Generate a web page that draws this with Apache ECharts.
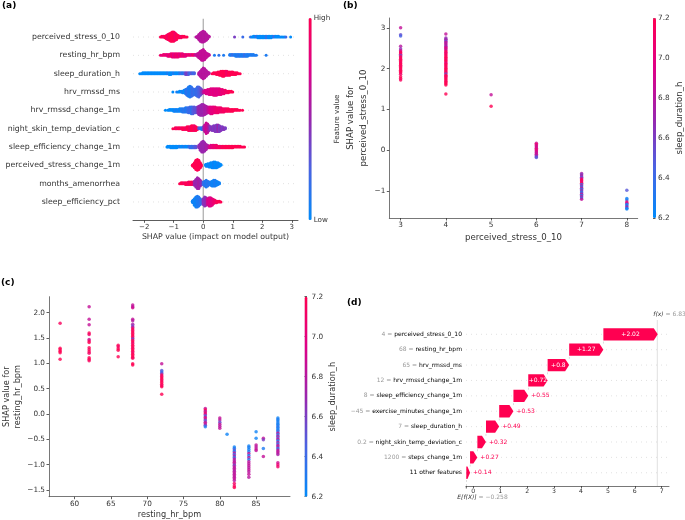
<!DOCTYPE html>
<html><head><meta charset="utf-8">
<script src="https://cdn.jsdelivr.net/npm/echarts@6/dist/echarts.min.js"></script>
<style>html,body{margin:0;padding:0;background:#fff}#main{width:685px;height:520px}</style>
</head><body><div id="main"></div>
<script>
const FONT = 'DejaVu Sans';
const INK = '#333333';
const CMAP = ['#008bfb', '#4963e3', '#9a25ae', '#df0087', '#ff0052'];

// ---------- (a) summary beeswarm: [shap value, number of points, normalised feature value] ----------
const summaryFeatures = ['perceived_stress_0_10', 'resting_hr_bpm', 'sleep_duration_h', 'hrv_rmssd_ms',
  'hrv_rmssd_change_1m', 'night_skin_temp_deviation_c', 'sleep_efficiency_change_1m',
  'perceived_stress_change_1m', 'months_amenorrhea', 'sleep_efficiency_pct'];
const summaryTicks = [-2, -1, 0, 1, 2, 3];

const swarm_perceived_stress_0_10 = [
  [-1.45,1,1],[-1.4,2,1],[-1.35,2,0.9],[-1.3,3,1],[-1.25,5,1],[-1.2,7,0.9],[-1.15,9,1],[-1.1,11,1],[-1.05,12,1],
  [-1.0,12,1],[-0.95,10,0.9],[-0.9,7,1],[-0.85,4,1],[-0.8,3,1],[-0.75,3,0.9],[-0.7,2,1],[-0.65,2,1],[-0.6,1,1],[-0.55,1,1],
  [-0.25,1,0.6],[-0.2,3,0.6],[-0.15,7,0.6],[-0.1,11,0.6],[-0.05,13,0.6],[0,14,0.6],[0.05,12,0.6],[0.1,9,0.6],[0.15,5,0.6],[0.2,2,0.6],
  [1.06,1,0.4],[1.34,1,0.2],[1.6,1,0.2],[1.65,1,0],[1.7,2,0],[1.75,2,0],[1.8,2,0.2],[1.85,3,0],[1.9,3,0],[1.95,3,0],
  [2.0,3,0],[2.05,3,0],[2.1,3,0],[2.15,3,0.2],[2.2,3,0],[2.25,3,0],[2.3,3,0],[2.35,2,0],[2.4,2,0.2],[2.45,2,0],
  [2.5,2,0],[2.55,2,0],[2.6,1,0],[2.65,1,0],[2.7,1,0],[2.75,1,0],[2.8,1,0.2],[2.96,1,0]
];
const swarm_resting_hr_bpm = [
  [-1.45,1,0.9],[-1.4,1,0.75],[-1.35,2,0.9],[-1.3,2,0.8],[-1.25,2,0.9],[-1.2,3,0.75],[-1.15,3,0.9],[-1.1,4,0.8],
  [-1.05,5,0.9],[-1.0,5,0.75],[-0.95,5,0.9],[-0.9,5,0.8],[-0.85,5,0.9],[-0.8,4,0.75],[-0.75,4,0.9],[-0.7,4,0.8],
  [-0.65,3,0.9],[-0.6,3,0.75],[-0.55,2,0.9],[-0.5,2,0.8],[-0.45,2,0.9],[-0.4,2,0.75],[-0.35,2,0.9],[-0.3,2,0.8],
  [-0.25,2,0.65],[-0.2,4,0.65],[-0.15,7,0.65],[-0.1,10,0.65],[-0.05,13,0.65],[0,14,0.65],[0.05,11,0.65],[0.1,7,0.65],[0.15,4,0.65],[0.2,2,0.65],
  [0.38,1,0.1],[0.53,1,0.15],[0.69,1,0.1],[0.9,2,0.1],[0.95,2,0.1],[1.0,2,0.2],[1.05,2,0.1],[1.1,3,0.1],[1.15,3,0.1],
  [1.2,3,0.15],[1.25,3,0.1],[1.3,3,0.1],[1.35,3,0.1],[1.4,3,0.2],[1.45,3,0.1],[1.5,3,0.1],[1.55,2,0.1],[1.6,2,0.1],
  [1.65,2,0.1],[1.7,2,0.1],[1.75,1,0.1],[1.8,1,0.1],[2.13,1,0.1]
];
const swarm_sleep_duration_h = [
  [-2.15,1,0],[-2.1,1,0],[-2.05,2,0],[-2.0,2,0],[-1.95,2,0],[-1.9,2,0],[-1.85,2,0],[-1.8,2,0],[-1.75,2,0],[-1.7,2,0],
  [-1.65,2,0],[-1.6,2,0],[-1.55,2,0],[-1.5,2,0],[-1.45,2,0],[-1.4,2,0],[-1.35,2,0],[-1.3,2,0],[-1.25,2,0],[-1.2,2,0.1],
  [-1.15,3,0],[-1.1,3,0],[-1.05,2,0],[-1.0,2,0.1],[-0.95,2,0],[-0.9,2,0],[-0.85,2,0],[-0.8,2,0.1],[-0.75,2,0.2],[-0.7,2,0.1],
  [-0.65,2,0.2],[-0.6,3,0.35],[-0.55,3,0.4],[-0.5,3,0.3],[-0.45,2,0.2],[-0.4,2,0.3],[-0.35,2,0.2],[-0.3,2,0.25],
  [-0.15,3,0.6],[-0.1,7,0.6],[-0.05,11,0.6],[0,14,0.6],[0.05,12,0.6],[0.1,8,0.6],[0.15,4,0.6],[0.2,2,0.6],
  [0.3,1,1],[0.35,2,1],[0.4,2,1],[0.45,3,1],[0.5,4,1],[0.55,5,1],[0.6,6,1],[0.65,7,1],[0.7,7,1],[0.75,6,1],
  [0.8,6,0.9],[0.85,5,1],[0.9,5,1],[0.95,4,1],[1.0,4,1],[1.05,3,1],[1.1,3,1],[1.15,2,1],[1.2,1,1],[1.25,1,1]
];
const swarm_hrv_rmssd_ms = [
  [-1.03,1,0],[-0.9,1,0.1],[-0.85,1,0],[-0.8,2,0],[-0.75,2,0],[-0.7,3,0.1],[-0.65,4,0],[-0.6,6,0.1],[-0.55,9,0.15],
  [-0.5,12,0.1],[-0.45,14,0.1],[-0.4,12,0.15],[-0.35,9,0.2],[-0.3,7,0.15],[-0.25,9,0.2],[-0.2,12,0.2],[-0.15,13,0.25],
  [-0.1,10,0.3],[-0.05,6,0.4],
  [0,3,0.6],[0.05,4,0.7],[0.1,5,0.75],[0.15,6,0.75],[0.2,7,0.75],[0.25,8,0.8],[0.3,8,0.75],[0.35,9,0.8],[0.4,9,0.75],
  [0.45,9,0.8],[0.5,8,0.75],[0.55,8,0.8],[0.6,7,0.8],[0.65,6,0.85],[0.7,5,0.85],[0.75,4,0.9],[0.8,3,0.9],[0.85,3,0.95],
  [0.9,2,1],[0.95,2,1],[1.0,1,1]
];
const swarm_hrv_rmssd_change_1m = [
  [-1.28,1,0],[-1.2,1,0],[-1.15,2,0],[-1.1,2,0],[-1.05,2,0],[-1.0,3,0],[-0.95,3,0.1],[-0.9,3,0],[-0.85,3,0.1],[-0.8,4,0],
  [-0.75,4,0.1],[-0.7,5,0.1],[-0.65,5,0.15],[-0.6,6,0.1],[-0.55,6,0.15],[-0.5,7,0.2],[-0.45,8,0.2],[-0.4,9,0.15],
  [-0.35,9,0.25],[-0.3,8,0.3],[-0.25,7,0.3],[-0.2,8,0.4],
  [-0.15,11,0.5],[-0.1,13,0.5],[-0.05,14,0.5],[0,14,0.5],[0.05,12,0.55],[0.1,10,0.55],[0.15,8,0.6],
  [0.2,8,0.7],[0.25,9,0.75],[0.3,9,0.8],[0.35,8,0.8],[0.4,8,0.85],[0.45,7,0.85],[0.5,7,0.9],[0.55,6,0.85],[0.6,6,0.9],
  [0.65,5,0.9],[0.7,5,0.95],[0.75,4,0.9],[0.8,4,0.95],[0.85,4,1],[0.9,3,0.95],[0.95,3,1],[1.0,3,1],[1.05,2,1],[1.1,2,1],
  [1.15,2,1],[1.2,1,1],[1.25,1,1],[1.33,1,1]
];
const swarm_night_skin_temp_deviation_c = [
  [-1.03,1,1],[-0.95,2,1],[-0.9,2,0.9],[-0.85,2,1],[-0.8,2,1],[-0.75,2,0.9],[-0.7,3,1],[-0.65,3,1],[-0.6,3,0.9],
  [-0.55,4,1],[-0.5,5,1],[-0.45,5,0.9],[-0.4,6,1],[-0.35,6,1],[-0.3,6,0.9],[-0.25,5,1],[-0.2,3,1],
  [-0.15,2,0.3],[-0.1,2,0.2],[-0.05,3,0.1],[0,4,0.4],[0.05,8,0.6],[0.1,12,0.7],[0.15,10,0.65],[0.2,6,0.5],
  [0.25,4,0.4],[0.3,5,0.45],[0.35,6,0.4],[0.4,7,0.45],[0.45,8,0.4],[0.5,8,0.5],[0.55,7,0.4],[0.6,5,0.45],
  [0.65,4,0.4],[0.7,3,0.45],[0.75,2,0.4]
];
const swarm_sleep_efficiency_change_1m = [
  [-1.23,1,0],[-1.2,2,0],[-1.15,2,0],[-1.1,3,0],[-1.05,3,0],[-1.0,3,0],[-0.95,3,0],[-0.9,3,0],[-0.85,2,0],[-0.8,2,0.1],
  [-0.75,2,0],[-0.7,2,0],[-0.65,2,0.1],[-0.6,2,0],[-0.55,2,0],[-0.5,2,0.1],[-0.45,3,0.2],[-0.4,3,0.15],[-0.35,3,0.2],
  [-0.3,3,0.25],[-0.25,3,0.3],
  [-0.15,4,0.45],[-0.1,9,0.5],[-0.05,13,0.5],[0,14,0.5],[0.05,11,0.5],[0.1,7,0.55],[0.15,4,0.55],
  [0.2,3,0.7],[0.25,4,0.75],[0.3,4,0.8],[0.35,4,0.85],[0.4,4,0.85],[0.45,4,0.9],[0.5,3,0.9],[0.55,3,0.95],[0.6,3,0.9],
  [0.65,3,1],[0.7,3,0.95],[0.75,3,1],[0.8,3,1],[0.85,3,1],[0.9,3,1],[0.95,3,1],[1.0,3,1],[1.05,2,1],[1.1,2,1],
  [1.15,2,1],[1.2,2,1],[1.25,2,1],[1.3,1,1],[1.35,1,1],[1.4,1,1]
];
const swarm_perceived_stress_change_1m = [
  [-0.37,1,1],[-0.35,3,1],[-0.3,7,1],[-0.25,12,1],[-0.2,14,1],[-0.15,12,1],[-0.1,7,1],[-0.07,3,1],
  [0.08,2,0],[0.1,3,0.05],[0.15,4,0],[0.2,5,0.05],[0.25,6,0],[0.3,7,0],[0.35,8,0.05],[0.4,8,0],[0.45,7,0],
  [0.5,6,0.05],[0.55,4,0],[0.6,2,0]
];
const swarm_months_amenorrhea = [
  [-0.8,1,1],[-0.75,2,1],[-0.7,2,1],[-0.65,2,0.9],[-0.6,3,1],[-0.55,3,1],[-0.5,4,0.9],[-0.45,4,1],[-0.4,4,1],[-0.35,4,0.9],
  [-0.3,6,0.5],[-0.25,10,0.5],[-0.2,14,0.5],[-0.15,13,0.55],[-0.1,8,0.5],[-0.05,4,0.45],
  [0,4,0.2],[0.05,7,0.15],[0.1,9,0.1],[0.15,7,0.15],[0.2,4,0.1],[0.25,5,0.1],[0.3,7,0.05],[0.35,8,0.05],[0.4,8,0.1],
  [0.45,6,0.05],[0.5,4,0.05],[0.55,2,0.05]
];
const swarm_sleep_efficiency_pct = [
  [-0.37,2,0],[-0.35,4,0.05],[-0.3,9,0.05],[-0.25,13,0.05],[-0.2,14,0.1],[-0.15,12,0.1],[-0.1,8,0.15],[-0.05,4,0.2],
  [0,8,0.45],[0.05,12,0.45],[0.1,10,0.5],
  [0.15,8,0.7],[0.2,11,0.75],[0.25,11,0.75],[0.3,9,0.8],[0.35,6,0.85],[0.4,4,0.9],[0.45,3,0.95],[0.5,2,1],[0.55,2,1],[0.6,1,1]
];
const summarySwarms = [swarm_perceived_stress_0_10, swarm_resting_hr_bpm, swarm_sleep_duration_h, swarm_hrv_rmssd_ms,
  swarm_hrv_rmssd_change_1m, swarm_night_skin_temp_deviation_c, swarm_sleep_efficiency_change_1m,
  swarm_perceived_stress_change_1m, swarm_months_amenorrhea, swarm_sleep_efficiency_pct];

// ---------- (b) dependence: [perceived_stress_0_10, SHAP, sleep_duration_h] ----------
const stressTicks = [3, 4, 5, 6, 7, 8];
const stressShapTicks = [-1, 0, 1, 2, 3];
const dependenceStress = [
  [3,3.0,6.85],[3,2.83,6.55],[3,2.80,6.45],[3,2.55,6.8],[3,2.48,6.65],[3,2.44,6.9],[3,2.41,7.1],[3,2.38,7.2],[3,2.35,7.1],
  [3,2.32,6.6],[3,2.29,7.2],[3,2.26,7.1],[3,2.23,7.2],[3,2.2,7.15],[3,2.17,7.2],[3,2.14,7.1],[3,2.11,7.2],[3,2.08,7.2],
  [3,2.05,7.1],[3,2.02,7.2],[3,1.99,7.2],[3,1.96,7.15],[3,1.93,7.2],[3,1.9,7.2],[3,1.86,7.1],[3,1.8,7.2],[3,1.76,7.2],[3,1.72,7.15],
  [4,2.85,6.85],[4,2.75,6.7],[4,2.72,6.6],[4,2.7,6.8],[4,2.67,6.55],[4,2.64,6.9],[4,2.61,6.75],[4,2.58,6.85],[4,2.55,6.7],
  [4,2.52,6.9],[4,2.49,7.0],[4,2.46,6.8],[4,2.43,7.1],[4,2.4,7.2],[4,2.37,7.0],[4,2.34,7.2],[4,2.31,7.1],[4,2.28,7.2],
  [4,2.25,7.2],[4,2.22,7.1],[4,2.19,7.2],[4,2.16,7.2],[4,2.13,7.0],[4,2.1,7.2],[4,2.07,7.2],[4,2.04,7.1],[4,2.01,7.2],
  [4,1.98,7.2],[4,1.95,7.2],[4,1.92,7.1],[4,1.89,7.2],[4,1.87,6.5],[4,1.84,7.2],[4,1.81,7.2],[4,1.78,7.1],[4,1.75,7.2],
  [4,1.72,7.2],[4,1.69,7.15],[4,1.66,7.2],[4,1.63,7.2],[4,1.6,7.2],[4,1.38,7.2],
  [5,1.36,6.85],[5,1.08,7.2],
  [6,0.17,6.9],[6,0.14,7.1],[6,0.11,6.85],[6,0.08,7.0],[6,0.05,6.85],[6,0.02,7.1],[6,-0.01,6.9],[6,-0.04,7.0],
  [6,-0.07,6.8],[6,-0.1,6.9],[6,-0.13,6.75],[6,-0.16,6.6],[6,-0.18,6.5],
  [7,-0.57,6.75],[7,-0.6,6.6],[7,-0.63,6.8],[7,-0.66,6.5],[7,-0.69,6.9],[7,-0.72,7.1],[7,-0.75,7.2],[7,-0.78,7.0],
  [7,-0.81,7.2],[7,-0.84,6.4],[7,-0.87,6.8],[7,-0.9,6.3],[7,-0.93,6.9],[7,-0.96,6.3],[7,-0.99,6.8],[7,-1.02,6.3],
  [7,-1.05,6.5],[7,-1.08,6.85],[7,-1.11,6.3],[7,-1.14,6.9],[7,-1.17,6.35],[7,-1.2,6.85],
  [8,-0.98,6.5],[8,-1.18,6.25],[8,-1.22,6.3],[8,-1.27,7.1],[8,-1.3,6.9],[8,-1.33,6.25],[8,-1.36,6.3],[8,-1.39,6.85],
  [8,-1.42,6.3],[8,-1.44,6.25]
];

// ---------- (c) dependence: [resting_hr_bpm, SHAP, sleep_duration_h] ----------
const hrTicks = [60, 65, 70, 75, 80, 85];
const hrShapTicks = [-1.5, -1, -0.5, 0, 0.5, 1, 1.5, 2];
const dependenceHr = [
  [58,1.79,7.15],[58,1.30,7.2],[58,1.27,7.2],[58,1.24,7.2],[58,1.21,7.2],[58,1.08,7.2],
  [62,2.12,6.85],[62,1.87,6.85],[62,1.76,6.85],[62,1.6,7.2],[62,1.57,7.1],[62,1.47,6.85],[62,1.44,7.1],[62,1.41,7.2],
  [62,1.31,7.2],[62,1.27,7.15],[62,1.23,7.2],[62,1.2,7.1],[62,1.11,7.2],[62,1.08,7.2],[62,1.05,7.15],
  [66,1.36,7.2],[66,1.33,7.1],[66,1.29,7.2],[66,1.26,7.2],[66,1.13,7.2],
  [68,2.15,6.85],[68,2.12,6.8],[68,2.1,6.9],[68,1.87,6.85],[68,1.84,6.8],[68,1.77,6.75],[68,1.74,6.6],[68,1.71,6.85],
  [68,1.68,7.2],[68,1.65,7.1],[68,1.62,7.2],[68,1.59,7.15],[68,1.56,7.2],[68,1.53,7.2],[68,1.5,7.1],[68,1.48,6.6],
  [68,1.45,7.2],[68,1.42,7.2],[68,1.39,7.1],[68,1.36,7.2],[68,1.33,7.2],[68,1.3,7.15],[68,1.27,7.2],[68,1.24,7.2],
  [68,1.21,7.1],[68,1.18,7.2],[68,1.15,7.2],[68,1.12,7.2],[68,1.1,7.15],[68,0.99,7.2],[68,0.97,7.2],
  [72,0.99,6.85],[72,0.86,6.5],[72,0.83,6.4],[72,0.8,6.55],[72,0.77,7.2],[72,0.74,7.1],[72,0.71,7.2],[72,0.68,7.2],
  [72,0.65,7.15],[72,0.62,7.2],[72,0.59,7.2],[72,0.56,7.1],[72,0.54,7.2],[72,0.39,7.2],
  [78,0.11,6.85],[78,0.08,7.2],[78,0.05,6.8],[78,0.02,7.1],[78,-0.01,6.9],[78,-0.04,6.45],[78,-0.07,7.0],[78,-0.1,6.85],
  [78,-0.13,6.5],[78,-0.16,6.8],[78,-0.19,6.9],[78,-0.22,6.6],[78,-0.25,6.3],
  [80,-0.08,6.85],[80,-0.12,6.8],[80,-0.16,6.55],[80,-0.2,6.85],[80,-0.24,6.8],[80,-0.28,6.85],
  [81,-0.4,6.25],
  [82,-0.65,6.25],[82,-0.68,6.3],[82,-0.71,6.5],[82,-0.74,6.3],[82,-0.77,6.85],[82,-0.8,6.4],[82,-0.83,6.8],[82,-0.86,6.3],
  [82,-0.89,6.85],[82,-0.92,6.75],[82,-0.95,6.85],[82,-0.98,6.8],[82,-1.01,6.6],[82,-1.04,6.85],[82,-1.07,6.8],
  [82,-1.1,6.85],[82,-1.13,6.75],[82,-1.16,6.85],[82,-1.19,6.8],[82,-1.22,6.85],[82,-1.25,6.8],[82,-1.28,6.85],
  [82,-1.31,6.8],[82,-1.37,7.1],[82,-1.42,7.15],[82,-1.45,7.2],
  [84,-0.63,6.25],[84,-0.66,6.3],[84,-0.7,6.25],[84,-0.74,6.3],[84,-0.78,6.85],[84,-0.82,6.3],[84,-0.86,6.8],[84,-0.9,6.35],
  [84,-0.94,6.85],[84,-0.98,6.8],[84,-1.02,6.85],[84,-1.06,6.8],[84,-1.1,6.85],[84,-1.14,6.8],[84,-1.19,6.85],[84,-1.25,6.8],
  [85,-0.35,6.25],[85,-0.48,6.25],[85,-0.61,6.85],[85,-0.65,6.8],[85,-0.69,6.85],[85,-0.72,6.85],
  [86,-0.48,6.85],[86,-0.51,6.6],[86,-0.68,6.3],[86,-0.84,6.85],
  [88,-0.08,6.25],[88,-0.11,6.3],[88,-0.14,6.25],[88,-0.17,6.3],[88,-0.2,6.25],[88,-0.23,6.3],[88,-0.26,6.35],[88,-0.29,6.25],
  [88,-0.32,6.3],[88,-0.35,6.4],[88,-0.38,6.85],[88,-0.41,6.3],[88,-0.44,6.8],[88,-0.47,6.5],[88,-0.5,6.85],[88,-0.53,6.3],
  [88,-0.56,6.8],[88,-0.59,6.35],[88,-0.62,6.85],[88,-0.65,6.75],[88,-0.68,6.3],[88,-0.71,6.85],[88,-0.74,6.8],
  [88,-0.77,6.85],[88,-0.8,6.75],[88,-0.96,6.9],[88,-1.0,7.05],[88,-1.04,7.1]
];
const sleepTicks = [6.2, 6.4, 6.6, 6.8, 7.0, 7.2];

// ---------- (d) waterfall ----------
const waterfallFeatures = ['perceived_stress_0_10', 'resting_hr_bpm', 'hrv_rmssd_ms', 'hrv_rmssd_change_1m',
  'sleep_efficiency_change_1m', 'exercise_minutes_change_1m', 'sleep_duration_h', 'night_skin_temp_deviation_c',
  'steps_change_1m', '11 other features'];
const waterfallFeatureValues = ['4', '68', '65', '12', '8', '\u221245', '7', '0.2', '1200', ''];
const waterfallShap = [2.02, 1.27, 0.8, 0.72, 0.55, 0.53, 0.49, 0.32, 0.27, 0.14];
const baseValue = -0.258;
const fxValue = 6.837;
const waterfallTicks = [0, 1, 2, 3, 4, 5, 6, 7];

// ================= build =================
const minus = s => String(s).replace('-', '\u2212');

function swarmPoints(entries, row) {
  const groups = new Map();
  entries.forEach(([x, n, c]) => {
    const k = x.toFixed(3);
    if (!groups.has(k)) groups.set(k, []);
    for (let i = 0; i < n; i++) groups.get(k).push([x, c]);
  });
  let maxLayer = 0;
  groups.forEach(g => { maxLayer = Math.max(maxLayer, Math.ceil((g.length - 1) / 2)); });
  const scale = 0.9 * 0.4 / (maxLayer + 1);
  const pts = [];
  groups.forEach(g => g.forEach(([x, c], layer) => {
    const off = Math.ceil(layer / 2) * ((layer % 2) * 2 - 1);
    pts.push([x, row + off * scale, c]);
  }));
  return pts;
}
const nRows = summaryFeatures.length;
let summaryPoints = [];
summarySwarms.forEach((s, i) => { summaryPoints = summaryPoints.concat(swarmPoints(s, nRows - 1 - i)); });

// waterfall arrows: [start, row, end, shap]
const wfData = [];
{
  let acc = baseValue;
  for (let i = waterfallShap.length - 1; i >= 0; i--) {
    const row = waterfallShap.length - 1 - i;
    wfData.push([acc, row, acc + waterfallShap[i], waterfallShap[i]]);
    acc += waterfallShap[i];
  }
}
const rowsIdx = summaryFeatures.map((_, i) => [0, i]);
const wfRowsIdx = waterfallFeatures.map((_, i) => [0, i]);

const chart = echarts.init(document.getElementById('main'), null, {renderer: 'canvas'});

const tickStyle = {lineStyle: {color: INK, width: 0.8}, length: 2.5};
const lineStyle = {onZero: false, lineStyle: {color: '#555', width: 0.8}};
const lbl = (size, extra) => Object.assign({color: INK, fontFamily: FONT, fontSize: size}, extra || {});

function rowLineSeries(ax, data) {
  return {
    type: 'custom', xAxisIndex: ax, yAxisIndex: ax, silent: true, data: data, z: 0,
    renderItem: (params, api) => {
      const cs = params.coordSys;
      const y = api.coord([0, api.value(1)])[1];
      return {type: 'line', shape: {x1: cs.x, y1: y, x2: cs.x + cs.width, y2: y},
        style: {stroke: '#cccccc', lineWidth: 0.6, lineDash: [1, 4]}};
    }
  };
}
function colorbar(seriesIndex, min, max, left, top, h, w) {
  return {type: 'continuous', show: true, seriesIndex: seriesIndex, dimension: 2, min: min, max: max,
    inRange: {color: CMAP}, calculable: false, realtime: false, hoverLink: false,
    left: left, top: top, itemWidth: w, itemHeight: h, padding: 0, text: null, showLabel: false,
    textStyle: {fontSize: 1, color: 'rgba(0,0,0,0)'}};
}

const option = {
  animation: false,
  textStyle: {fontFamily: FONT},
  graphic: [
    {type: 'text', left: 2, top: 1, style: {text: '(a)', font: 'bold 9px "DejaVu Sans"', fill: '#000'}},
    {type: 'text', left: 343, top: 1, style: {text: '(b)', font: 'bold 9px "DejaVu Sans"', fill: '#000'}},
    {type: 'text', left: 1, top: 278, style: {text: '(c)', font: 'bold 9px "DejaVu Sans"', fill: '#000'}},
    {type: 'text', left: 347, top: 298, style: {text: '(d)', font: 'bold 9px "DejaVu Sans"', fill: '#000'}}
  ],
  grid: [
    {left: 133, top: 18.7, width: 165, height: 201.6},
    {left: 308.5, top: 18, width: 3.2, height: 202},
    {left: 389.3, top: 18, width: 248.4, height: 200},
    {left: 653, top: 18, width: 3, height: 200},
    {left: 48.3, top: 296.7, width: 241.7, height: 200},
    {left: 304.5, top: 296.7, width: 3, height: 200},
    {left: 466, top: 320, width: 203, height: 166}
  ],
  xAxis: [
    {gridIndex: 0, type: 'value', min: -2.38, max: 3.21, splitLine: {show: false},
      axisLine: {onZero: false, lineStyle: {color: INK, width: 0.8}}, axisTick: Object.assign({customValues: summaryTicks}, tickStyle),
      axisLabel: lbl(7, {customValues: summaryTicks, formatter: minus, margin: 3}),
      name: 'SHAP value (impact on model output)', nameLocation: 'middle', nameGap: 13, nameTextStyle: lbl(7.8)},
    {gridIndex: 1, type: 'value', min: 0, max: 1, show: false},
    {gridIndex: 2, type: 'value', min: 2.75, max: 8.24, splitLine: {show: false},
      axisLine: lineStyle, axisTick: Object.assign({customValues: stressTicks}, tickStyle),
      axisLabel: lbl(7.3, {customValues: stressTicks, margin: 4}),
      name: 'perceived_stress_0_10', nameLocation: 'middle', nameGap: 15, nameTextStyle: lbl(8.6)},
    {gridIndex: 3, type: 'value', min: 0, max: 1, show: false},
    {gridIndex: 4, type: 'value', min: 56.47, max: 89.67, splitLine: {show: false},
      axisLine: lineStyle, axisTick: Object.assign({customValues: hrTicks}, tickStyle),
      axisLabel: lbl(7.3, {customValues: hrTicks, margin: 4}),
      name: 'resting_hr_bpm', nameLocation: 'middle', nameGap: 14, nameTextStyle: lbl(8.2)},
    {gridIndex: 5, type: 'value', min: 0, max: 1, show: false},
    {gridIndex: 6, type: 'value', min: -0.27, max: 7.27, splitLine: {show: false},
      axisLine: lineStyle, axisTick: Object.assign({customValues: waterfallTicks}, tickStyle, {length: 2}),
      axisLabel: lbl(6.2, {customValues: waterfallTicks, margin: 2})}
  ],
  yAxis: [
    {gridIndex: 0, type: 'value', min: -1, max: nRows, splitLine: {show: false},
      axisLine: {show: false}, axisTick: {show: false},
      axisLabel: lbl(7.8, {customValues: rowsIdx.map(r => r[1]), formatter: v => summaryFeatures[nRows - 1 - v] || '', margin: 13})},
    {gridIndex: 1, type: 'value', min: 0, max: 1, position: 'right', splitLine: {show: false},
      axisLine: {show: false}, axisTick: {show: false},
      axisLabel: lbl(7.2, {customValues: [0, 1], formatter: v => (v === 1 ? 'High' : 'Low'), margin: 2}),
      name: 'Feature value', nameLocation: 'middle', nameRotate: 90, nameGap: 12, nameTextStyle: lbl(7.2)},
    {gridIndex: 2, type: 'value', min: -1.66, max: 3.24, splitLine: {show: false},
      axisLine: lineStyle, axisTick: Object.assign({customValues: stressShapTicks}, tickStyle),
      axisLabel: lbl(7.3, {customValues: stressShapTicks, formatter: minus, margin: 4}),
      name: 'SHAP value for\nperceived_stress_0_10', nameLocation: 'middle', nameRotate: 90, nameGap: 16,
      nameTextStyle: lbl(8.6, {lineHeight: 13})},
    {gridIndex: 3, type: 'value', min: 6.2, max: 7.2, position: 'right', splitLine: {show: false},
      axisLine: {show: false}, axisTick: Object.assign({customValues: sleepTicks}, tickStyle),
      axisLabel: lbl(7.3, {customValues: sleepTicks, formatter: v => v.toFixed(1), margin: 4}),
      name: 'sleep_duration_h', nameLocation: 'middle', nameRotate: 90, nameGap: 21, nameTextStyle: lbl(8.6)},
    {gridIndex: 4, type: 'value', min: -1.632, max: 2.316, splitLine: {show: false},
      axisLine: lineStyle, axisTick: Object.assign({customValues: hrShapTicks}, tickStyle),
      axisLabel: lbl(7.3, {customValues: hrShapTicks, formatter: v => minus(v.toFixed(1)), margin: 4}),
      name: 'SHAP value for\nresting_hr_bpm', nameLocation: 'middle', nameRotate: 90, nameGap: 26,
      nameTextStyle: lbl(8.2, {lineHeight: 11})},
    {gridIndex: 5, type: 'value', min: 6.2, max: 7.2, position: 'right', splitLine: {show: false},
      axisLine: {show: false}, axisTick: Object.assign({customValues: sleepTicks}, tickStyle),
      axisLabel: lbl(7.3, {customValues: sleepTicks, formatter: v => v.toFixed(1), margin: 4}),
      name: 'sleep_duration_h', nameLocation: 'middle', nameRotate: 90, nameGap: 21, nameTextStyle: lbl(8.2)},
    {gridIndex: 6, type: 'value', min: -0.86, max: 9.93, splitLine: {show: false},
      axisLine: {show: false}, axisTick: {show: false},
      axisLabel: {customValues: wfRowsIdx.map(r => r[1]), margin: 4, fontFamily: FONT, fontSize: 6,
        formatter: v => {
          const i = waterfallFeatures.length - 1 - v;
          const fv = waterfallFeatureValues[i];
          return (fv ? '{g|' + fv + ' = }' : '') + '{n|' + waterfallFeatures[i] + '}';
        },
        rich: {g: {color: '#999999', fontFamily: FONT, fontSize: 6}, n: {color: '#000000', fontFamily: FONT, fontSize: 6}}}}
  ],
  visualMap: [
    colorbar(0, 0, 1, 308.5, 18, 202, 3.2),
    colorbar(2, 6.2, 7.2, 653, 18, 200, 3),
    colorbar(3, 6.2, 7.2, 304.5, 296.7, 200, 3)
  ],
  series: [
    // 0 summary beeswarm
    {type: 'scatter', xAxisIndex: 0, yAxisIndex: 0, data: summaryPoints, symbolSize: 3, silent: true, z: 3,
      itemStyle: {opacity: 1}},
    // 1 summary guides: row lines + zero line
    {type: 'custom', xAxisIndex: 0, yAxisIndex: 0, silent: true, data: rowsIdx, z: 1,
      renderItem: (params, api) => {
        const cs = params.coordSys;
        const y = api.coord([0, api.value(1)])[1];
        const children = [{type: 'line', shape: {x1: cs.x, y1: y, x2: cs.x + cs.width, y2: y},
          style: {stroke: '#cccccc', lineWidth: 0.6, lineDash: [1, 4]}}];
        if (params.dataIndex === 0) {
          const x0 = api.coord([0, 0])[0];
          children.push({type: 'line', shape: {x1: x0, y1: cs.y, x2: x0, y2: cs.y + cs.height},
            style: {stroke: '#aaaaaa', lineWidth: 1.2}});
        }
        return {type: 'group', children};
      }},
    // 2 dependence b
    {type: 'scatter', xAxisIndex: 2, yAxisIndex: 2, data: dependenceStress, symbolSize: 3.5, silent: true},
    // 3 dependence c
    {type: 'scatter', xAxisIndex: 4, yAxisIndex: 4, data: dependenceHr, symbolSize: 3.5, silent: true},
    // 4 waterfall row lines
    rowLineSeries(6, wfRowsIdx),
    // 5 waterfall guides: f(x) line, base line, connectors
    {type: 'custom', xAxisIndex: 6, yAxisIndex: 6, silent: true, data: wfData, z: 1,
      renderItem: (params, api) => {
        const cs = params.coordSys;
        const e = api.value(2), row = api.value(1);
        const children = [];
        if (row < waterfallShap.length - 1) {
          const a = api.coord([e, row + 0.4]), b = api.coord([e, row + 0.6]);
          children.push({type: 'line', shape: {x1: a[0], y1: a[1], x2: b[0], y2: b[1]},
            style: {stroke: '#bbbbbb', lineWidth: 0.5, lineDash: [2, 2]}});
        }
        if (params.dataIndex === 0) {
          const xb = api.coord([baseValue, 0])[0];
          const xf = api.coord([fxValue, 0])[0];
          children.push({type: 'line', shape: {x1: xb, y1: cs.y + cs.height, x2: xb, y2: cs.y + cs.height - cs.height / 10},
            style: {stroke: '#bbbbbb', lineWidth: 0.5, lineDash: [2, 2]}});
          children.push({type: 'line', shape: {x1: xf, y1: cs.y, x2: xf, y2: cs.y + cs.height},
            style: {stroke: '#cccccc', lineWidth: 0.6}});
          children.push({type: 'line', shape: {x1: xb, y1: cs.y + cs.height, x2: xb, y2: cs.y + cs.height + 2.5},
            style: {stroke: INK, lineWidth: 0.8}});
          children.push({type: 'text', x: xb - 9, y: cs.y + cs.height + 11,
            style: {text: '{k|E[f(X)]}{g| = \u22120.258}', verticalAlign: 'middle', align: 'left',
              rich: {k: {fill: '#333', fontFamily: FONT, fontSize: 6, fontStyle: 'italic'},
                     g: {fill: '#999999', fontFamily: FONT, fontSize: 6}}}});
          children.push({type: 'text', x: xf - 4, y: cs.y - 6,
            style: {text: '{k|f(x)}{g| = 6.837}', verticalAlign: 'middle', align: 'left',
              rich: {k: {fill: '#333', fontFamily: FONT, fontSize: 6, fontStyle: 'italic'},
                     g: {fill: '#999999', fontFamily: FONT, fontSize: 6}}}});
        }
        return {type: 'group', children};
      }},
    // 6 waterfall arrows
    {type: 'custom', xAxisIndex: 6, yAxisIndex: 6, silent: true, data: wfData, z: 3,
      renderItem: (params, api) => {
        const s = api.value(0), row = api.value(1), e = api.value(2), v = api.value(3);
        const a = api.coord([s, row]), b = api.coord([e, row]);
        const h = api.size([0, 0.8])[1];
        const len = b[0] - a[0];
        const head = Math.min(4, len * 0.7);
        const y = a[1];
        const pts = [[a[0], y - h / 2], [b[0] - head, y - h / 2], [b[0], y], [b[0] - head, y + h / 2], [a[0], y + h / 2]];
        const txt = '+' + v;
        const inside = len > txt.length * 3.6;
        return {type: 'group', children: [
          {type: 'polygon', shape: {points: pts}, style: {fill: '#ff0051'}},
          {type: 'text', x: inside ? (a[0] + b[0]) / 2 : b[0] + 3, y: y,
            style: {text: txt, fill: inside ? '#ffffff' : '#ff0051', fontFamily: FONT, fontSize: 6,
              align: inside ? 'center' : 'left', verticalAlign: 'middle'}}
        ]};
      }}
  ]
};
chart.setOption(option);
</script></body></html>
